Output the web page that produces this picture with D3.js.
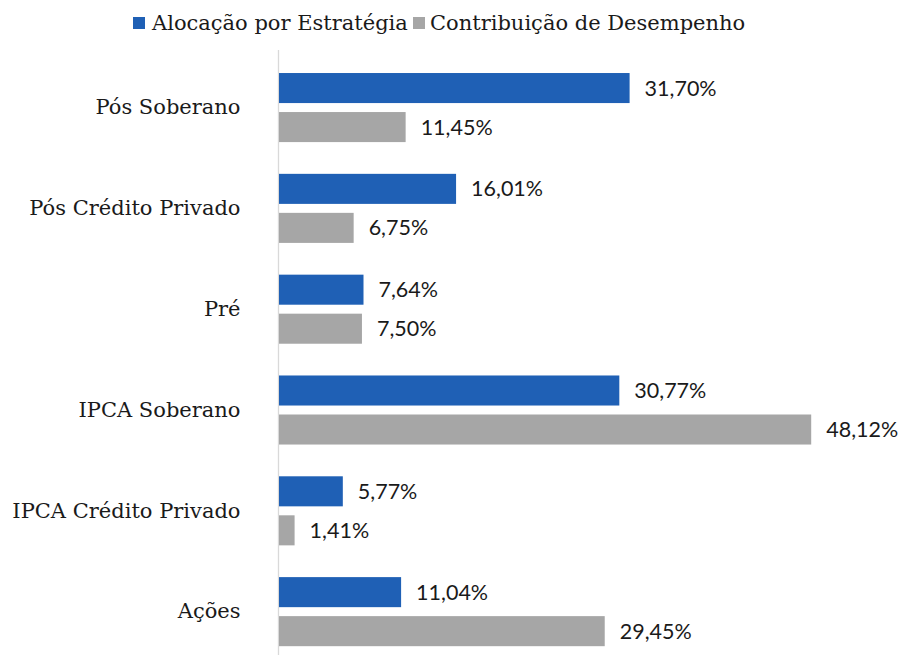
<!DOCTYPE html>
<html>
<head>
<meta charset="utf-8">
<script src="https://cdn.jsdelivr.net/npm/d3@7"></script>
<style>
  html, body { margin: 0; padding: 0; background: #fff; }
  svg { display: block; }
</style>
</head>
<body>
<svg id="chart"></svg>
<script>
;(() => {

    const categories = ['Pós Soberano', 'Pós Crédito Privado', 'Pré', 'IPCA Soberano', 'IPCA Crédito Privado', 'Ações'];
    const seriesNames = ['Alocação por Estratégia', 'Contribuição de Desempenho'];
    const alocacao = [31.70, 16.01, 7.64, 30.77, 5.77, 11.04];
    const contribuicao = [11.45, 6.75, 7.50, 48.12, 1.41, 29.45];
    const seriesColors = ['#1F60B5', '#A6A6A6'];

    const width = 904;
    const height = 655;
    const serifFont = '"DejaVu Serif", serif';
    const numberFont = 'Lato, "Open Sans", sans-serif';

    const svg = d3.select('#chart')
        .attr('width', width)
        .attr('height', height);

    const x = d3.scaleLinear().domain([0, 50]).range([279, 832]);

    const y0 = d3.scaleBand()
        .domain(categories)
        .range([57.6, 661.6])
        .paddingInner(0.315)
        .paddingOuter(0.153);

    const y1 = d3.scaleBand()
        .domain(seriesNames)
        .range([0, y0.bandwidth()])
        .paddingInner(0.23);

    const rows = categories.map((cat, i) => ({
        cat,
        values: [alocacao[i], contribuicao[i]]
    }));

    // category axis
    const axis = svg.append('g')
        .attr('transform', 'translate(278.5,0)')
        .call(d3.axisLeft(y0).tickSize(0).tickPadding(38));
    axis.select('.domain')
        .attr('stroke', '#D9D9D9')
        .attr('stroke-width', 1.3)
        .attr('d', 'M0,50V' + height);
    axis.selectAll('text')
        .attr('font-family', serifFont)
        .attr('font-size', 21)
        .attr('fill', '#1a1a1a');

    const groups = svg.selectAll('g.cat')
        .data(rows)
        .enter()
        .append('g')
        .attr('class', 'cat')
        .attr('transform', d => 'translate(0,' + y0(d.cat) + ')');

    groups.selectAll('rect')
        .data(d => d.values.map((v, k) => ({ v, k })))
        .enter()
        .append('rect')
        .attr('x', x(0))
        .attr('y', d => y1(seriesNames[d.k]))
        .attr('width', d => x(d.v) - x(0))
        .attr('height', y1.bandwidth())
        .attr('fill', d => seriesColors[d.k]);

    groups.selectAll('text.val')
        .data(d => d.values.map((v, k) => ({ v, k })))
        .enter()
        .append('text')
        .attr('class', 'val')
        .attr('x', d => x(d.v) + 15)
        .attr('y', d => y1(seriesNames[d.k]) + y1.bandwidth() / 2)
        .attr('dy', '0.35em')
        .attr('font-family', numberFont)
        .attr('font-size', 21.5)
        .attr('fill', '#1a1a1a')
        .text(d => d.v.toFixed(2).replace('.', ',') + '%');

    // legend
    const legendX = [133, 413];
    const legend = svg.selectAll('g.legend')
        .data(seriesNames)
        .enter()
        .append('g')
        .attr('class', 'legend')
        .attr('transform', (d, i) => 'translate(' + legendX[i] + ',0)');
    legend.append('rect')
        .attr('x', 0)
        .attr('y', 17)
        .attr('width', 12)
        .attr('height', 12)
        .attr('fill', (d, i) => seriesColors[i]);
    legend.append('text')
        .attr('x', (d, i) => i === 0 ? 19 : 17)
        .attr('y', 30)
        .attr('font-family', serifFont)
        .attr('font-size', 21)
        .attr('fill', '#1a1a1a')
        .text(d => d);

})();
</script>
</body>
</html>
